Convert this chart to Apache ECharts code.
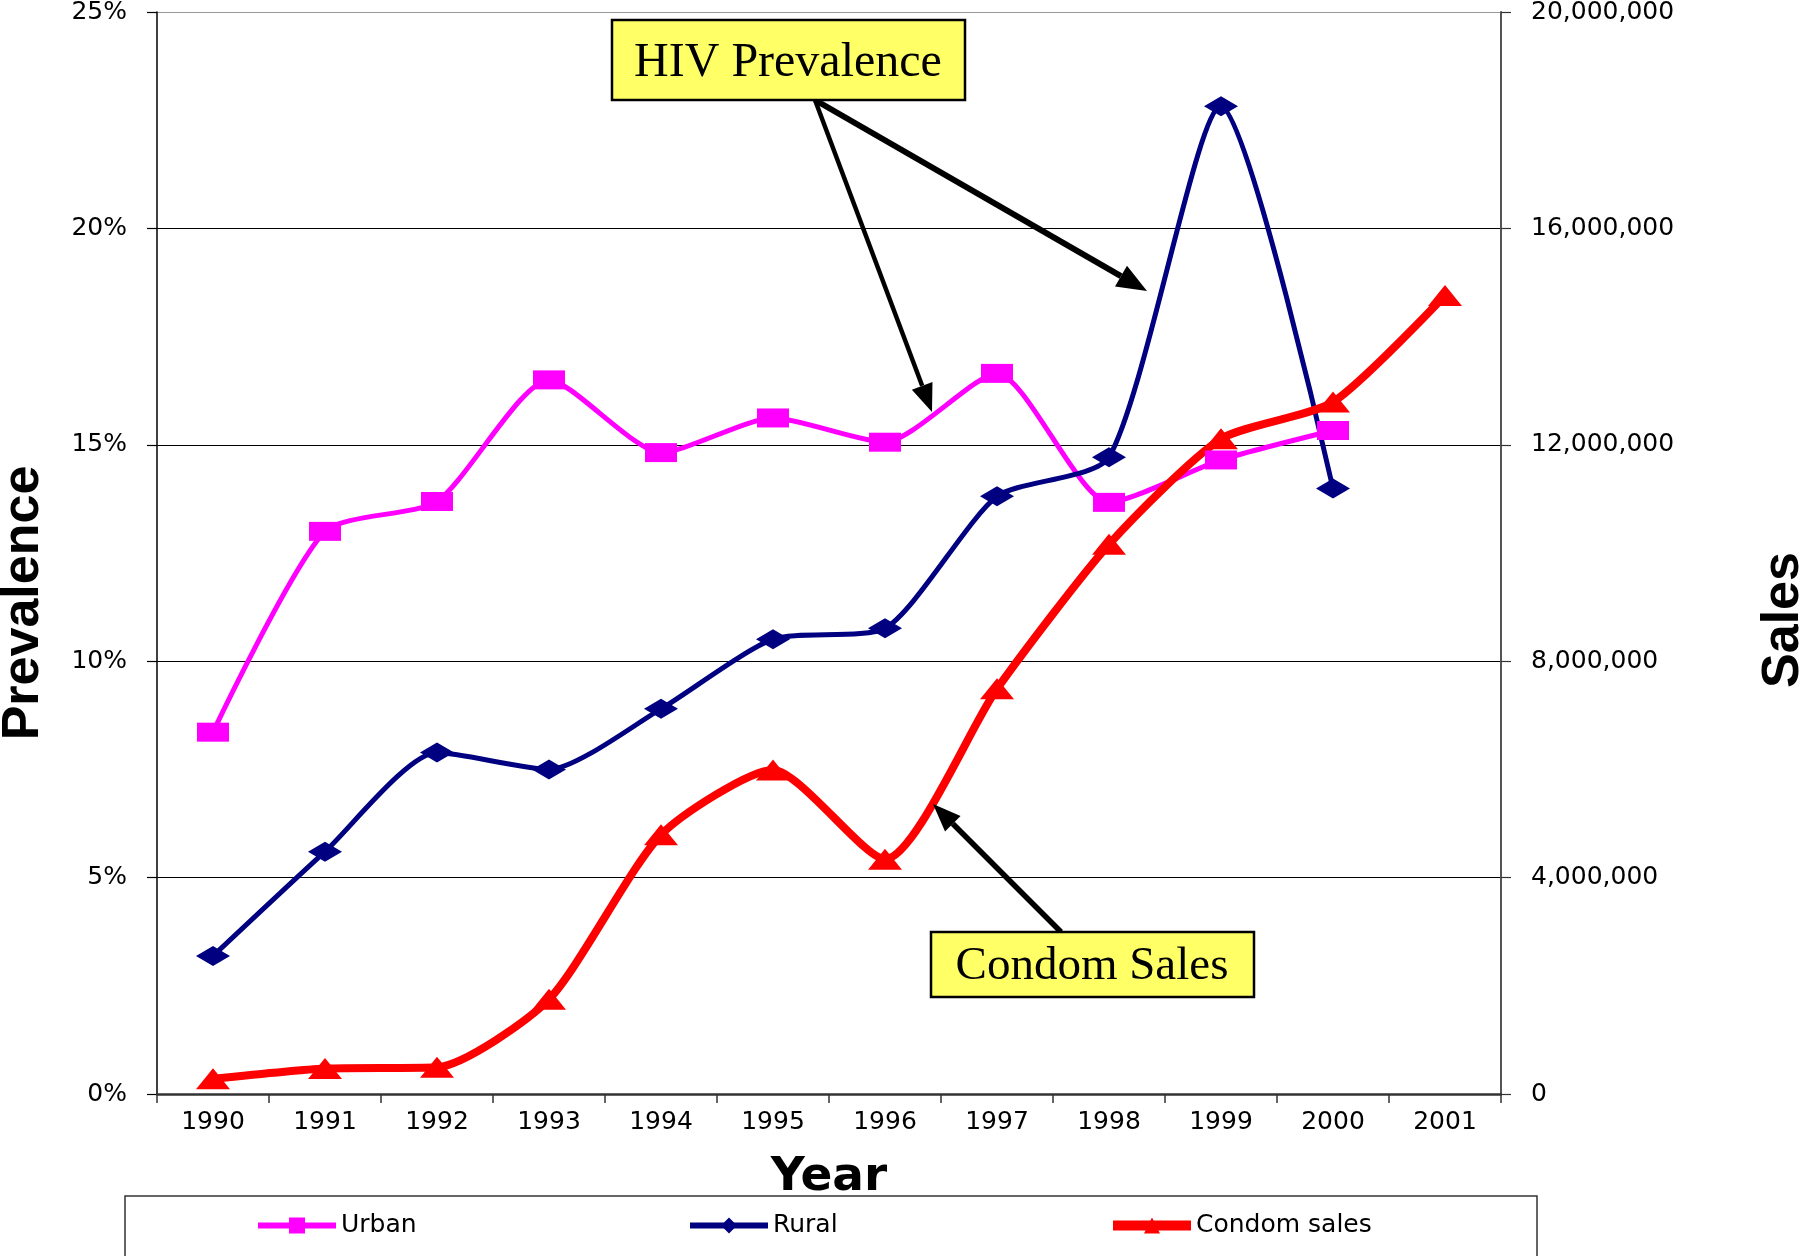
<!DOCTYPE html>
<html>
<head>
<meta charset="utf-8">
<title>HIV Prevalence and Condom Sales</title>
<script src="https://cdn.jsdelivr.net/npm/echarts@6/dist/echarts.min.js"></script>
<style>
  html, body { margin: 0; padding: 0; background: #fff; }
  #chart { width: 1810px; height: 1256px; }
</style>
</head>
<body>
<div id="chart"></div>
<script>
const years = ['1990', '1991', '1992', '1993', '1994', '1995', '1996', '1997', '1998', '1999', '2000', '2001'];
// prevalence in percent
const urban = [8.36, 13.0, 13.69, 16.5, 14.82, 15.62, 15.06, 16.65, 13.67, 14.65, 15.33, null];
const rural = [3.19, 5.6, 7.89, 7.5, 8.9, 10.51, 10.76, 13.81, 14.71, 22.82, 13.99, null];
// condom sales (units)
const condomSales = [280000, 470000, 495000, 1750000, 4790000, 5990000, 4340000, 7490000, 10160000, 12110000, 12790000, 14760000];
const prevalenceTicks = [0, 5, 10, 15, 20, 25];
const salesTicks = [0, 4000000, 8000000, 12000000, 16000000, 20000000];

const font = 'DejaVu Sans';
const serif = 'Liberation Serif';

const arrow = (x1, y1, x2, y2, w, headLen, headW) => {
    const dx = x2 - x1, dy = y2 - y1;
    const len = Math.sqrt(dx * dx + dy * dy);
    const ux = dx / len, uy = dy / len;
    const bx = x2 - ux * headLen, by = y2 - uy * headLen;
    return [
        { type: 'line', z: 50, shape: { x1: x1, y1: y1, x2: bx, y2: by }, style: { stroke: '#000', lineWidth: w } },
        {
            type: 'polygon', z: 50,
            shape: { points: [[x2, y2], [bx - uy * headW / 2, by + ux * headW / 2], [bx + uy * headW / 2, by - ux * headW / 2]] },
            style: { fill: '#000' }
        }
    ];
};

const legendBase = {
    padding: 0, itemWidth: 78, itemHeight: 20, itemGap: 0, top: 1213,
    textStyle: { fontFamily: font, fontSize: 25, color: '#000' }
};

const option = {
    animation: false,
    backgroundColor: '#fff',
    textStyle: { fontFamily: font, color: '#000' },
    grid: { left: 157, right: 309, top: 12, bottom: 162, containLabel: false, outerBoundsMode: 'none' },
    legend: [
        Object.assign({ data: ['Urban'], left: 255, lineStyle: { width: 6 } }, legendBase),
        Object.assign({ data: ['Rural'], left: 687, lineStyle: { width: 6 } }, legendBase),
        Object.assign({ data: ['Condom sales'], left: 1108, lineStyle: { width: 10 } }, legendBase)
    ],
    xAxis: {
        type: 'category',
        data: years,
        boundaryGap: true,
        name: 'Year',
        nameLocation: 'middle',
        nameGap: 60,
        nameTextStyle: { fontFamily: font, fontSize: 47, fontWeight: 'bold', color: '#000' },
        axisLine: { lineStyle: { color: '#333', width: 2.5 } },
        axisTick: { show: true, length: 9, lineStyle: { color: '#333', width: 1.5 } },
        axisLabel: { fontSize: 25, margin: 16, color: '#000' },
        splitLine: { show: false }
    },
    yAxis: [
        {
            type: 'value',
            min: prevalenceTicks[0],
            max: prevalenceTicks[prevalenceTicks.length - 1],
            interval: 5,
            axisLine: { show: true, lineStyle: { color: '#000', width: 1.5 } },
            axisTick: { show: true, length: 10, lineStyle: { color: '#000', width: 1.2 } },
            axisLabel: { formatter: '{value}%', fontSize: 25, margin: 30, color: '#000' },
            splitLine: { show: true, lineStyle: { color: ['#000', '#000', '#000', '#000', '#000', '#999'], width: 1.2 } }
        },
        {
            type: 'value',
            position: 'right',
            min: salesTicks[0],
            max: salesTicks[salesTicks.length - 1],
            interval: 4000000,
            axisLine: { show: true, lineStyle: { color: '#555', width: 2 } },
            axisTick: { show: true, length: 10, lineStyle: { color: '#333', width: 1.2 } },
            axisLabel: { formatter: v => v.toLocaleString('en-US'), fontSize: 25, margin: 30, color: '#000' },
            splitLine: { show: false }
        }
    ],
    series: [
        {
            name: 'Urban', type: 'line', yAxisIndex: 0, data: urban,
            smooth: 0.22, symbol: 'rect', symbolSize: [32, 19],
            lineStyle: { color: '#FF00FF', width: 5 },
            itemStyle: { color: '#FF00FF', borderWidth: 0 }
        },
        {
            name: 'Rural', type: 'line', yAxisIndex: 0, data: rural,
            smooth: 0.22, symbol: 'diamond', symbolSize: [34, 20],
            lineStyle: { color: '#000080', width: 5 },
            itemStyle: { color: '#000080', borderWidth: 0 }
        },
        {
            name: 'Condom sales', type: 'line', yAxisIndex: 1, data: condomSales,
            smooth: 0.22, symbol: 'triangle', symbolSize: [34, 21],
            lineStyle: { color: '#FF0000', width: 8 },
            itemStyle: { color: '#FF0000', borderWidth: 0 }
        }
    ],
    graphic: [
        {
            type: 'rect', z: 1, silent: true,
            shape: { x: 125, y: 1196, width: 1412, height: 120 },
            style: { fill: 'none', stroke: '#333', lineWidth: 1.5 }
        },
        {
            type: 'text', z: 60, x: 24, y: 603, rotation: Math.PI / 2,
            style: { text: 'Prevalence', font: 'bold 52px "Liberation Sans"', fill: '#000', align: 'center', verticalAlign: 'middle' }
        },
        {
            type: 'text', z: 60, x: 1784, y: 620, rotation: Math.PI / 2,
            style: { text: 'Sales', font: 'bold 52px "Liberation Sans"', fill: '#000', align: 'center', verticalAlign: 'middle' }
        },
        ...arrow(815, 100, 932, 412, 4.5, 28, 22),
        ...arrow(815, 100, 1147, 291, 6, 30, 24),
        ...arrow(1061, 932, 933, 804, 5.5, 28, 22),
        {
            type: 'rect', z: 55,
            shape: { x: 612, y: 20, width: 353, height: 80 },
            style: { fill: '#FFFF66', stroke: '#000', lineWidth: 2.5 }
        },
        {
            type: 'text', z: 56, x: 788, y: 63,
            style: { text: 'HIV Prevalence', font: '48px "' + serif + '"', fill: '#000', align: 'center', verticalAlign: 'middle' }
        },
        {
            type: 'rect', z: 55,
            shape: { x: 931, y: 932, width: 323, height: 65 },
            style: { fill: '#FFFF66', stroke: '#000', lineWidth: 2.5 }
        },
        {
            type: 'text', z: 56, x: 1092, y: 967,
            style: { text: 'Condom Sales', font: '47px "' + serif + '"', fill: '#000', align: 'center', verticalAlign: 'middle' }
        }
    ]
};

const chartDom = document.getElementById('chart');
const myChart = echarts.init(chartDom);
myChart.setOption(option);
</script>
</body>
</html>
